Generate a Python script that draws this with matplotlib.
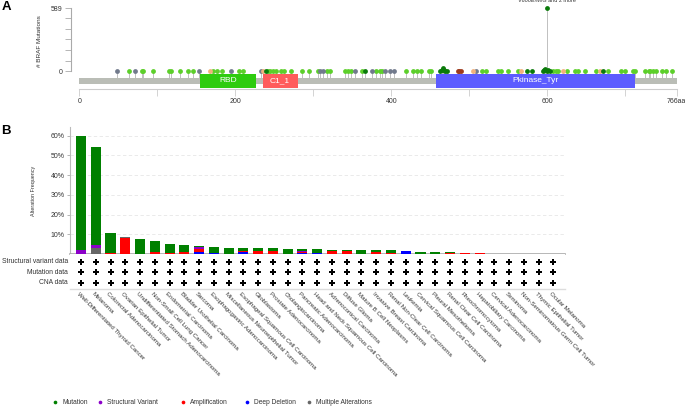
import matplotlib.pyplot as plt
from matplotlib.patches import Rectangle
import numpy as np

plt.rcParams['font.family'] = ['Liberation Sans', 'DejaVu Sans']

# ---------- panel A data: BRAF lollipop ----------
protein_len = 766
domains = [("RBD", 155, 227, "#2ecc0f"),
           ("C1_1", 235, 280, "#ff5c5c"),
           ("Pkinase_Tyr", 457, 712, "#5c5cff")]

light_green_pos = [64, 80, 82, 95, 115, 117, 129, 139, 146, 171, 177, 183, 205, 210,
                   242, 245, 249, 252, 259, 262, 271, 286, 294, 306, 317, 321, 341,
                   345, 349, 363, 380, 385, 388, 419, 428, 433, 438, 449, 451, 516,
                   521, 537, 541, 550, 563, 607, 611, 614, 625, 636, 640, 648, 663,
                   678, 695, 699, 710, 713, 725, 730, 732, 735, 740, 747, 752, 760]
gray_pos = [48, 71, 154, 194, 233, 309, 312, 354, 375, 392, 399, 403, 509]
peach_pos = [168, 236, 505, 566, 620, 667]
brown_pos = [485, 487, 489]
dark_green_pos = [239, 366, 463, 465, 466, 467, 469, 471, 574, 581, 594, 596, 597,
                  599, 601, 603, 671]
dark_green_cnt = [2, 2, 8, 18, 28, 14, 6, 3, 3, 4, 6, 12, 20, 9, 15, 5, 2]
hotspot_pos = 600
hotspot_cnt = 589
hotspot_label = "V600E/M/G and 2 more"

# ---------- panel B data: alteration frequency by cancer type ----------
cancer_types = ["Well-Differentiated Thyroid Cancer", "Melanoma", "Colorectal Adenocarcinoma",
                "Ovarian Epithelial Tumor", "Undifferentiated Stomach Adenocarcinoma",
                "Non-Small Cell Lung Cancer", "Endometrial Carcinoma",
                "Bladder Urothelial Carcinoma", "Sarcoma", "Esophagogastric Adenocarcinoma",
                "Miscellaneous Neuroepithelial Tumor", "Esophageal Squamous Cell Carcinoma",
                "Glioblastoma", "Prostate Adenocarcinoma", "Cholangiocarcinoma",
                "Pancreatic Adenocarcinoma", "Head and Neck Squamous Cell Carcinoma",
                "Adrenocortical Carcinoma", "Diffuse Glioma", "Mature B Cell Neoplasms",
                "Invasive Breast Carcinoma", "Renal Non-Clear Cell Carcinoma", "Leukemia",
                "Cervical Squamous Cell Carcinoma", "Pleural Mesothelioma",
                "Renal Clear Cell Carcinoma", "Pheochromocytoma", "Hepatobiliary Carcinoma",
                "Cervical Adenocarcinoma", "Seminoma", "Non-Seminomatous Germ Cell Tumor",
                "Thymic Epithelial Tumor", "Ocular Melanoma"]

deep_deletion = [0, 0, 0, 0, 0, 0, 0, 0, 1.0, 0.3, 0, 0.8, 0, 0, 0, 0.3, 0.3, 0, 0, 0,
                 0, 0, 1.4, 0, 0, 0, 0, 0, 0, 0, 0, 0, 0]
amplification = [0, 0, 0.3, 7.9, 0, 1.1, 0.5, 1.1, 1.4, 0, 0, 0.8, 1.4, 1.3, 0, 0.6, 0,
                 1.3, 1.4, 0, 1.1, 0.6, 0, 0, 0, 0.55, 0.7, 0.45, 0, 0, 0, 0, 0]
multiple = [0, 2.9, 0, 0.8, 0, 0, 0, 0, 0, 0, 0, 0, 0, 0, 0, 0, 0, 0, 0, 0,
            0, 0, 0, 0, 0, 0, 0, 0, 0, 0, 0, 0, 0]
structural = [1.8, 1.5, 0, 0, 0, 0, 0, 0, 1.0, 0.4, 0, 0, 0, 0, 0, 0.5, 0.4, 0, 0, 0,
              0, 0, 0, 0, 0, 0, 0, 0, 0, 0, 0, 0, 0]
mutation = [58.2, 49.7, 10.4, 0, 7.6, 5.3, 4.6, 3.5, 0.5, 3.0, 3.2, 1.5, 1.6, 1.7, 2.7,
            1.2, 1.8, 0.9, 0.6, 2.0, 0.7, 1.2, 0, 1.1, 1.0, 0.3, 0, 0, 0, 0, 0, 0, 0]
row_labels = ["Structural variant data", "Mutation data", "CNA data"]

colors = {"Mutation": "#008000", "Structural Variant": "#8b00c9",
          "Amplification": "#ff0000", "Deep Deletion": "#0000ff",
          "Multiple Alterations": "#666666"}

W, H = 685, 407
fig = plt.figure(figsize=(W / 100, H / 100), dpi=100)


def px_axes(left, top, right, bottom):
    return fig.add_axes([left / W, 1 - bottom / H, (right - left) / W, (bottom - top) / H])


# ===== panel A =====
axA = px_axes(71, 8.3, 677, 89.3)
axA.set_xlim(-10.6, 766.3)
axA.set_ylim(-166, 589)
bar_lo, bar_hi = -119, -58
axA.add_patch(Rectangle((0, bar_lo), protein_len, bar_hi - bar_lo,
                        facecolor="#babdb6", edgecolor="none", zorder=2.5))
for name, s, e, c in domains:
    axA.add_patch(Rectangle((s, -151), e - s, 128, facecolor=c, edgecolor="none",
                            zorder=2.6))
    axA.text((s + e) / 2, -87, name, color="white", fontsize=6, ha="center",
             va="center", zorder=2.7)


def lollipops(pos, cnt, color, z=3):
    pos = np.asarray(pos)
    cnt = np.asarray(cnt)
    axA.vlines(pos, bar_hi, cnt, color="#b5b5b5", lw=0.6, zorder=2)
    axA.scatter(pos, cnt, s=12, color=color, zorder=z, linewidths=0, clip_on=False)


lollipops(light_green_pos, [3] * len(light_green_pos), "#5ccf2a")
lollipops(gray_pos, [2] * len(gray_pos), "#717a8c")
lollipops(peach_pos, [2] * len(peach_pos), "#f2b27c")
lollipops(brown_pos, [3, 4, 3], "#9e3a1c")
lollipops(dark_green_pos, dark_green_cnt, "#0a7a0a", z=4)
lollipops([hotspot_pos], [hotspot_cnt], "#0a7a0a", z=4)
axA.text(hotspot_pos, hotspot_cnt + 45, hotspot_label, fontsize=4, ha="center",
         va="bottom", color="#333333", clip_on=False)

for sp in ["top", "right"]:
    axA.spines[sp].set_visible(False)
axA.spines["left"].set_bounds(0, 589)
axA.spines["bottom"].set_bounds(0, 766)
axA.spines["left"].set_color("#aaaaaa")
axA.spines["bottom"].set_color("#cccccc")
axA.set_yticks([0, 100, 200, 300, 400, 500, 589])
axA.set_yticklabels(["0", "", "", "", "", "", "589"])
axA.set_xticks([0, 100, 200, 300, 400, 500, 600, 700, 766])
axA.set_xticklabels(["0", "", "200", "", "400", "", "600", "", "766aa"])
axA.tick_params(axis="y", length=4, width=0.6, color="#aaaaaa", labelsize=5,
                labelcolor="#333333", pad=2)
axA.tick_params(axis="x", length=5, width=0.6, color="#cccccc", labelsize=5,
                labelcolor="#333333", pad=1.5)
axA.set_ylabel("# BRAF Mutations", fontsize=4.6, color="#333333", labelpad=6)
axA.yaxis.set_label_coords(-0.048, 0.6)

# ===== panel B =====
n = len(cancer_types)
x = np.arange(n)
axB = px_axes(70, 127.3, 565, 254)
axB.set_xlim(-0.745, n - 0.21)
axB.set_ylim(0, 64.3)

stack = [("Deep Deletion", deep_deletion), ("Amplification", amplification),
         ("Multiple Alterations", multiple), ("Structural Variant", structural),
         ("Mutation", mutation)]
bottom = np.zeros(n)
for name, vals in stack:
    vals = np.asarray(vals, dtype=float)
    axB.bar(x, vals, width=0.68, bottom=bottom, color=colors[name],
            edgecolor="none", zorder=3)
    bottom += vals

axB.set_yticks([10, 20, 30, 40, 50, 60])
axB.set_yticklabels([f"{v}%" for v in [10, 20, 30, 40, 50, 60]])
axB.yaxis.grid(True, linestyle=(0, (4, 3)), color="#e6e6e6", lw=0.6)
axB.set_xticks([])
for sp in ["top", "right"]:
    axB.spines[sp].set_visible(False)
axB.spines["left"].set_color("#bbbbbb")
axB.spines["bottom"].set_color("#aaaaaa")
axB.spines["bottom"].set_linewidth(1.2)
axB.tick_params(axis="y", length=2.5, width=0.6, color="#aaaaaa", labelsize=5,
                labelcolor="#333333", pad=1.5)
axB.set_ylabel("Alteration Frequency", fontsize=3.9, color="#333333")
axB.yaxis.set_label_coords(-0.068, 0.5)

# profiled rows
axR = px_axes(70, 254, 565, 289.3)
axR.set_xlim(axB.get_xlim())
axR.set_ylim(289.3, 254)
row_y = [261.7, 272.3, 282.7]
for lbl, ry in zip(row_labels, row_y):
    axR.plot(x, [ry] * n, linestyle="none", marker="P", markersize=4.2,
             color="black", markeredgewidth=0)
    axR.text(-0.004, ry, lbl, transform=axR.get_yaxis_transform(), ha="right",
             va="center", fontsize=4.9, color="#333333")
axR.set_xticks([])
axR.set_yticks([])
for sp in ["top", "left", "right"]:
    axR.spines[sp].set_visible(False)
axR.spines["bottom"].set_color("#dddddd")
axR.spines["bottom"].set_linewidth(1.0)

for i, name in enumerate(cancer_types):
    axR.text(i - 0.1, 291.5, name, rotation=-45, rotation_mode="anchor", ha="left",
             va="top", fontsize=4.4, color="#333333", clip_on=False)

# overlay for panel letters and legend (pixel coords)
ov = fig.add_axes([0, 0, 1, 1])
ov.set_xlim(0, W)
ov.set_ylim(H, 0)
ov.axis("off")
ov.text(1.5, 13, "A", fontsize=9.5, fontweight="bold", va="bottom")
ov.text(1.5, 137.5, "B", fontsize=9.5, fontweight="bold", va="bottom")
legend_x = [55, 100, 182.7, 246.7, 309]
for lx, name in zip(legend_x, colors):
    ov.scatter([lx], [402.3], s=7, color=colors[name], linewidths=0)
    ov.text(lx + 7.5, 402.3, name, fontsize=4.8, va="center", color="#333333")

fig.savefig("out.png", dpi=100)
